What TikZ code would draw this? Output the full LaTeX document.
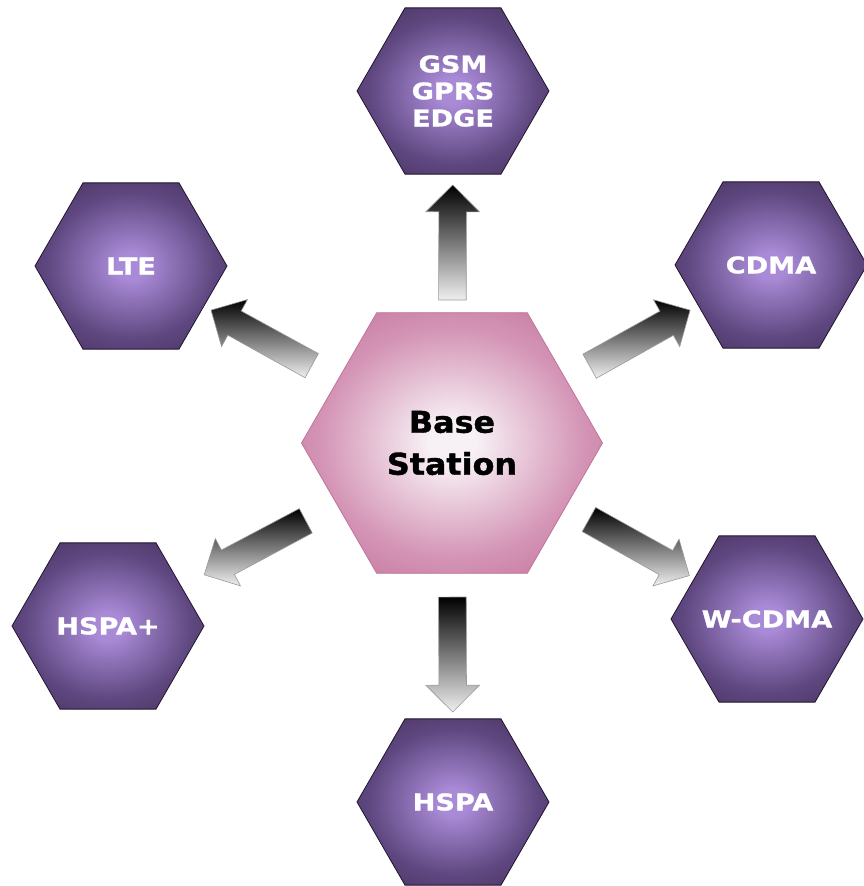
\documentclass[tikz,border=0pt]{standalone}
\usepackage{fontspec}
\usetikzlibrary{shapes.geometric,shapes.arrows,calc}
\newfontfamily\hexfont[FakeStretch=1.18,FakeBold=1.2]{DejaVu Sans}
\newfontfamily\basefont[FakeStretch=1.06,FakeBold=1.2]{DejaVu Sans}
\definecolor{HexDarkClr}{rgb}{0.20,0.13,0.27}
\definecolor{HexMidClr}{rgb}{0.37,0.28,0.50}
\definecolor{HexLightClr}{rgb}{0.66,0.54,0.84}
\definecolor{HexEdgeClr}{rgb}{0.13,0.08,0.18}
\definecolor{BaseDarkClr}{rgb}{0.71,0.36,0.54}
\definecolor{BaseMidClr}{rgb}{0.83,0.58,0.71}
\definecolor{BaseLightClr}{rgb}{0.97,0.94,0.96}
\definecolor{BaseEdgeClr}{rgb}{0.76,0.45,0.61}
\pgfdeclareradialshading{hexglow}{\pgfpoint{0bp}{0bp}}{color(0bp)=(HexLightClr); color(4bp)=(HexLightClr); color(22bp)=(HexMidClr); color(42bp)=(HexDarkClr); color(75bp)=(HexDarkClr)}
\pgfdeclareradialshading{baseglow}{\pgfpoint{0bp}{0bp}}{color(0bp)=(BaseLightClr); color(4bp)=(BaseLightClr); color(22bp)=(BaseMidClr); color(42bp)=(BaseDarkClr); color(75bp)=(BaseDarkClr)}
\tikzset{
  hexcell/.style={regular polygon,regular polygon sides=6,minimum size=192pt,inner sep=0pt,
    shade,shading=hexglow,draw=HexEdgeClr,line width=.8pt,text=white,align=center,
    font=\hexfont\bfseries\fontsize{23}{27}\selectfont},
  basecell/.style={regular polygon,regular polygon sides=6,minimum size=301pt,inner sep=0pt,
    shade,shading=baseglow,draw=BaseEdgeClr,line width=.8pt,text=black,align=center,
    font=\basefont\bfseries\fontsize{30}{42}\selectfont},
  blockarrow/.style={single arrow,minimum height=115pt,single arrow head extend=13pt,
    inner xsep=0pt,inner ysep=13.5pt,draw=gray!80,line width=.6pt,
    top color=black,bottom color=white!94!black,sloped,allow upside down}
}

\begin{document}
\begin{tikzpicture}[x=1pt,y=-1pt]
\useasboundingbox (0,0) rectangle (863,886);

\node[basecell] (bs) at (452,443) {Base\\Station};

\node[hexcell] (gsm) at (453,91) {GSM\\GPRS\\EDGE};
\node[hexcell] (cdma) at (771,265) {CDMA};
\node[hexcell] (wcdma) at (767,619) {\makebox[0pt]{W-CDMA}};
\node[hexcell] (hspa) at (453,802) {HSPA};
\node[hexcell] (hspaplus) at (108,626) {\makebox[0pt]{HSPA+}};
\node[hexcell] (lte) at (131,266) {LTE};

% block arrows from the base station
\path (bs.center) -- node[blockarrow,pos=.55] (a1) {} (gsm.center);
\path (bs.center) -- node[blockarrow,pos=.57] (a2) {} (cdma.center);
\path (bs.center) -- node[blockarrow,pos=.575] (a3) {} (wcdma.center);
\path (bs.center) -- node[blockarrow,pos=.57] (a4) {} (hspa.center);
\path (bs.center) -- node[blockarrow,pos=.555] (a5) {} (hspaplus.center);
\path (bs.center) -- node[blockarrow,pos=.575] (a6) {} (lte.center);

\end{tikzpicture}
\end{document}
